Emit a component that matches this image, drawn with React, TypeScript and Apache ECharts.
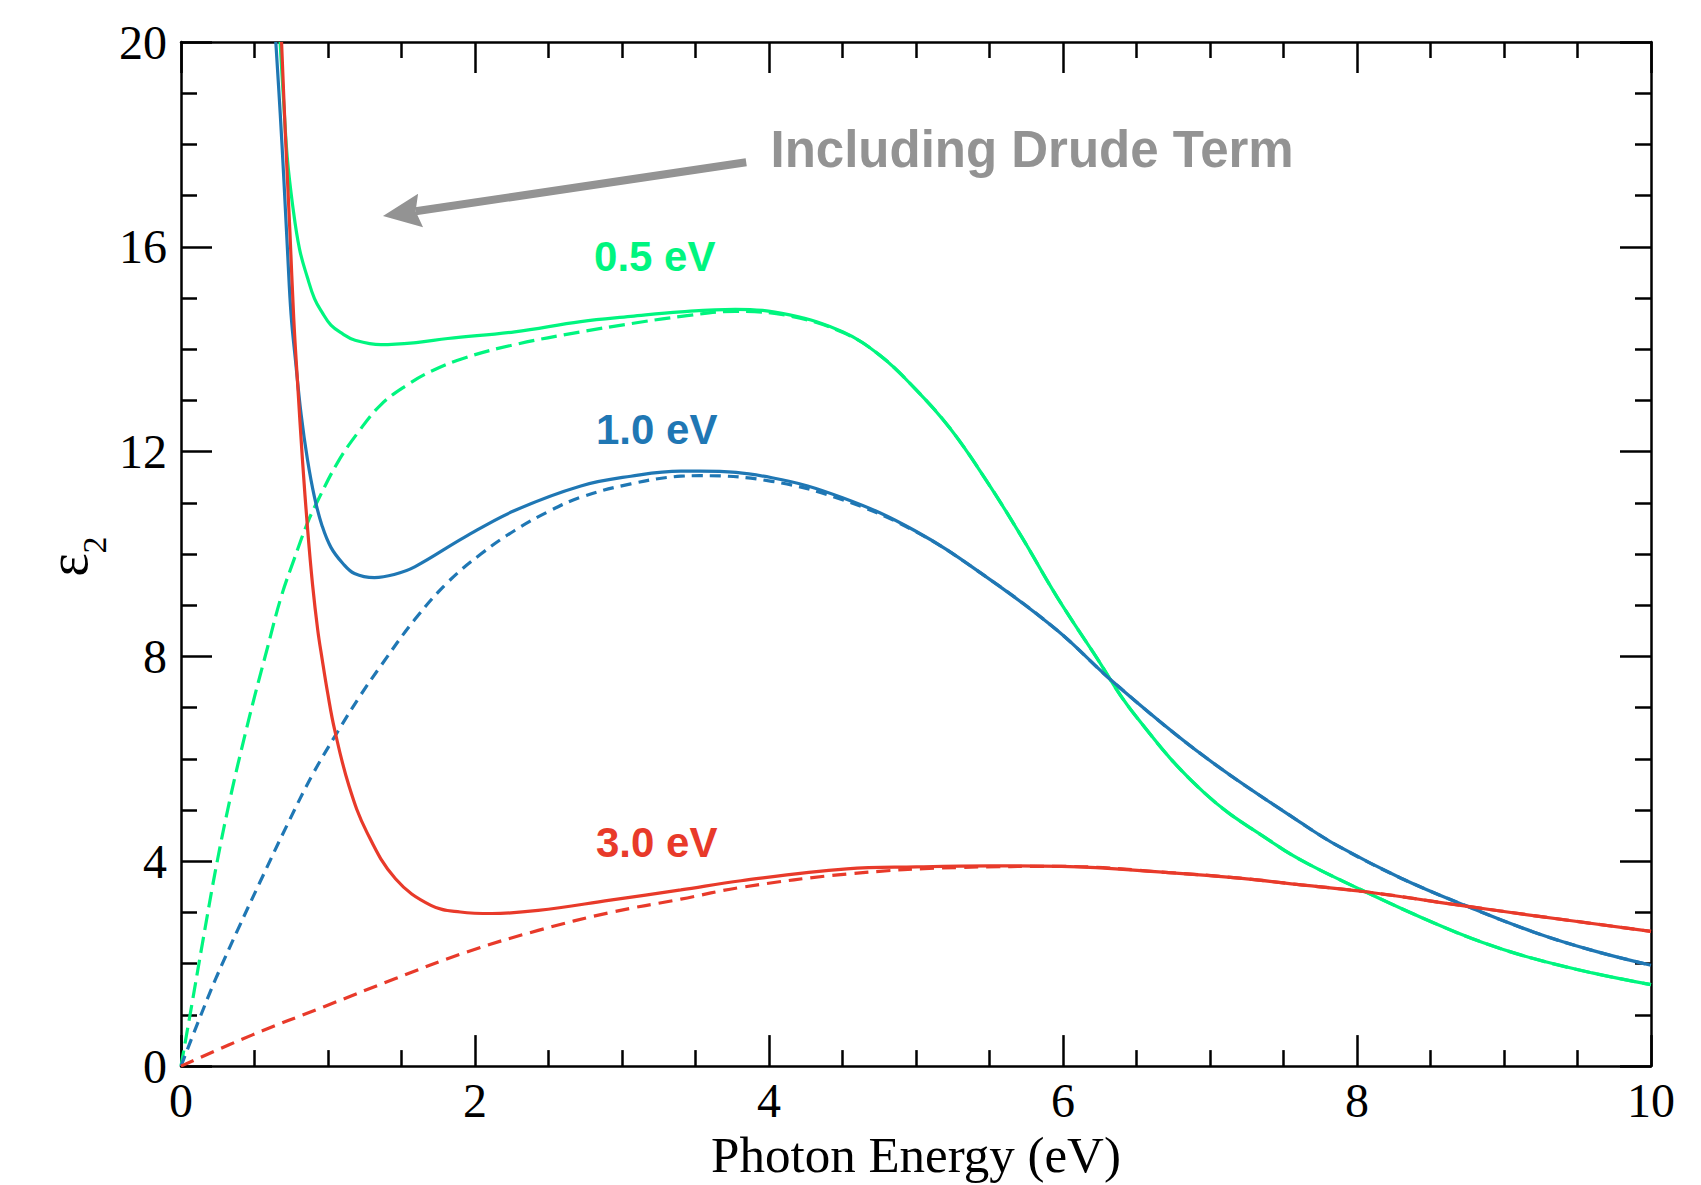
import React, { useEffect, useRef } from 'react';
import * as echarts from 'echarts';

// Photon energy axis (eV) and epsilon_2 axis
const X_MIN = 0, X_MAX = 10, X_STEP = 2;
const Y_MIN = 0, Y_MAX = 20, Y_STEP = 4;

// 0.5 eV broadening — Lorentz only (dashed)
const lorentz05: [number, number][] = [
  [0, 0], [0.073, 1.19], [0.146, 2.4], [0.243, 3.95], [0.34, 5.3], [0.438, 6.5], [0.499, 7.2],
  [0.59, 8.19], [0.681, 9.16], [0.771, 9.91], [0.862, 10.62], [0.93, 11.04], [1.066, 11.79],
  [1.203, 12.37], [1.361, 12.92], [1.543, 13.31], [1.702, 13.57], [1.929, 13.83], [2.269, 14.09],
  [2.723, 14.34], [3.06, 14.5], [3.404, 14.64], [3.77, 14.74], [4.14, 14.65], [4.5, 14.33],
  [4.75, 13.89], [4.99, 13.24], [5.23, 12.46], [5.48, 11.43], [5.72, 10.33], [5.96, 9.16],
  [6.21, 8.06], [6.48, 6.89], [6.96, 5.34], [7.46, 4.3], [7.68, 3.93], [8.09, 3.36], [8.52, 2.8],
  [8.85, 2.42], [9.2, 2.1], [9.6, 1.82], [10, 1.59],
];
// 0.5 eV — including Drude term (solid)
const drude05: [number, number][] = [
  [0.674, 20], [0.7, 18.75], [0.724, 17.71], [0.76, 16.8], [0.806, 15.96], [0.86, 15.4],
  [0.908, 14.99], [0.96, 14.72], [1.02, 14.47], [1.1, 14.3], [1.18, 14.18], [1.36, 14.09],
  [1.6, 14.13], [1.815, 14.21], [2.27, 14.34], [2.72, 14.54], [3.06, 14.64], [3.4, 14.73],
  [3.77, 14.78], [4.14, 14.67], [4.5, 14.34], [4.75, 13.89], [4.99, 13.24], [5.23, 12.46],
  [5.48, 11.43], [5.72, 10.33], [5.96, 9.16], [6.21, 8.06], [6.48, 6.89], [6.96, 5.34],
  [7.46, 4.3], [7.68, 3.93], [8.09, 3.36], [8.52, 2.8], [8.85, 2.42], [9.2, 2.1], [9.6, 1.82],
  [10, 1.59],
];
// 1.0 eV — Lorentz only (dashed)
const lorentz10: [number, number][] = [
  [0, 0], [0.122, 0.9], [0.243, 1.75], [0.389, 2.68], [0.535, 3.58], [0.729, 4.75], [0.9, 5.72],
  [1.07, 6.55], [1.216, 7.22], [1.36, 7.82], [1.59, 8.72], [1.815, 9.45], [2.04, 10.0],
  [2.27, 10.46], [2.5, 10.83], [2.72, 11.11], [3.06, 11.37], [3.4, 11.52], [3.53, 11.53],
  [4.02, 11.42], [4.5, 11.06], [4.99, 10.45], [5.48, 9.55], [5.96, 8.51], [6.35, 7.48],
  [6.96, 6.05], [7.62, 4.75], [7.87, 4.3], [8.3, 3.67], [8.75, 3.12], [9.2, 2.62], [9.6, 2.26],
  [10, 1.97],
];
// 1.0 eV — including Drude term (solid)
const drude10: [number, number][] = [
  [0.645, 20], [0.675, 18.6], [0.7, 17.3], [0.725, 15.9], [0.749, 14.67], [0.78, 13.75],
  [0.817, 12.73], [0.86, 11.85], [0.908, 11.11], [0.96, 10.55], [1.02, 10.13], [1.1, 9.82],
  [1.18, 9.62], [1.316, 9.54], [1.45, 9.6], [1.59, 9.75], [1.93, 10.33], [2.27, 10.85],
  [2.72, 11.33], [3.06, 11.52], [3.4, 11.62], [3.53, 11.62], [4.02, 11.49], [4.5, 11.1],
  [4.99, 10.46], [5.48, 9.55], [5.96, 8.51], [6.35, 7.48], [6.96, 6.05], [7.62, 4.75],
  [7.87, 4.3], [8.3, 3.67], [8.75, 3.12], [9.2, 2.62], [9.6, 2.26], [10, 1.97],
];
// 3.0 eV — Lorentz only (dashed)
const lorentz30: [number, number][] = [
  [0, 0], [0.486, 0.61], [0.973, 1.16], [1.459, 1.71], [1.945, 2.23], [2.43, 2.65], [2.92, 3.0],
  [3.4, 3.26], [3.81, 3.49], [4.53, 3.75], [5.3, 3.88], [5.99, 3.9], [6.72, 3.78], [7.2, 3.67],
  [7.62, 3.54], [8.07, 3.4], [8.75, 3.12], [9.2, 2.94], [10, 2.63],
];
// 3.0 eV — including Drude term (solid)
const drude30: [number, number][] = [
  [0.684, 20], [0.71, 18.2], [0.741, 16.29], [0.767, 14.6], [0.794, 13.3], [0.826, 11.85],
  [0.862, 10.46], [0.895, 9.4], [0.93, 8.52], [0.96, 7.95], [0.998, 7.28], [1.045, 6.57],
  [1.143, 5.47], [1.264, 4.57], [1.459, 3.66], [1.7, 3.14], [1.9, 3.01], [2.115, 2.98],
  [2.43, 3.04], [2.92, 3.24], [3.4, 3.44], [3.81, 3.62], [4.53, 3.85], [5.0, 3.89], [5.51, 3.91],
  [5.99, 3.9], [6.72, 3.78], [7.2, 3.67], [7.62, 3.54], [8.07, 3.4], [8.75, 3.12], [9.2, 2.94],
  [10, 2.63],
];

const SERIES_LABELS = ['0.5 eV', '1.0 eV', '3.0 eV'];
const ANNOTATION = 'Including Drude Term';
const X_NAME = 'Photon Energy (eV)';

const GREEN = '#00F57F';
const BLUE = '#1F77B4';
const RED = '#E83A2A';
const GRAY = '#939393';

export default function App() {
  const ref = useRef<HTMLDivElement>(null);
  useEffect(() => {
    const chart = echarts.init(ref.current!, null, { renderer: 'svg' });
    const serif = "'Liberation Serif', 'Times New Roman', serif";
    const sans = "'Liberation Sans', Arial, sans-serif";
    const axisLine = { show: true, onZero: false, lineStyle: { color: '#000', width: 2.5 } };
    const axisTick = { show: true, inside: true, length: 31, lineStyle: { color: '#000', width: 2.5 } };
    const minorTick = { show: true, splitNumber: 4, length: 16, lineStyle: { color: '#000', width: 2.5 } };
    const xBase = { type: 'value', min: X_MIN, max: X_MAX, interval: X_STEP, axisLine, axisTick, minorTick, splitLine: { show: false } };
    const yBase = { type: 'value', min: Y_MIN, max: Y_MAX, interval: Y_STEP, axisLine, axisTick, minorTick, splitLine: { show: false } };

    const line = (data: [number, number][], color: string, dash: any, z: number) => ({
      type: 'line',
      data,
      showSymbol: false,
      symbol: 'none',
      smooth: 0.4,
      clip: true,
      z,
      silent: true,
      lineStyle: { color, width: 3.2, type: dash, cap: 'butt' },
    });

    chart.setOption({
      animation: false,
      backgroundColor: '#fff',
      grid: { left: 181, top: 42, width: 1470, height: 1029, containLabel: false },
      xAxis: [
        {
          ...xBase,
          position: 'bottom',
          axisLabel: { color: '#000', fontSize: 48, fontFamily: serif, margin: 10 },
          name: X_NAME,
          nameLocation: 'middle',
          nameGap: 58,
          nameTextStyle: { color: '#000', fontSize: 51, fontFamily: serif },
        },
        { ...xBase, position: 'top', axisLabel: { show: false } },
      ],
      yAxis: [
        {
          ...yBase,
          position: 'left',
          axisLabel: { color: '#000', fontSize: 48, fontFamily: serif, margin: 14 },
        },
        { ...yBase, position: 'right', axisLabel: { show: false } },
      ],
      series: [
        line(lorentz05, GREEN, [16, 7], 2),
        line(lorentz10, BLUE, [11, 7], 2),
        line(lorentz30, RED, [14, 8], 2),
        line(drude05, GREEN, 'solid', 3),
        line(drude10, BLUE, 'solid', 3),
        line(drude30, RED, 'solid', 3),
      ],
    });

    const px = (x: number, y: number) => chart.convertToPixel({ gridIndex: 0 }, [x, y]) as number[];

    // arrow
    const tail = px(3.845, 17.65);
    const tip = px(1.374, 16.6);
    const dx = tip[0] - tail[0], dy = tip[1] - tail[1];
    const len = Math.hypot(dx, dy);
    const ux = dx / len, uy = dy / len;
    const nx = -uy, ny = ux;
    const headLen = 38, halfW = 17, notch = 5;
    const base = [tip[0] - ux * headLen, tip[1] - uy * headLen];
    const notchPt = [tip[0] - ux * (headLen - notch), tip[1] - uy * (headLen - notch)];

    const labelFont = { fontSize: 42, fontWeight: 'bold', fontFamily: sans };
    const lab = (txt: string, x: number, y: number, color: string) => {
      const p = px(x, y);
      return {
        type: 'text', x: p[0], y: p[1], z: 10,
        style: { text: txt, fill: color, ...labelFont, align: 'left', verticalAlign: 'middle' },
      };
    };
    const t = px(4.01, 17.9);

    chart.setOption({
      graphic: [
        {
          type: 'line', z: 10,
          shape: { x1: tail[0], y1: tail[1], x2: notchPt[0], y2: notchPt[1] },
          style: { stroke: GRAY, lineWidth: 8 },
        },
        {
          type: 'polygon', z: 10,
          shape: {
            points: [
              tip,
              [base[0] + nx * halfW, base[1] + ny * halfW],
              notchPt,
              [base[0] - nx * halfW, base[1] - ny * halfW],
            ],
          },
          style: { fill: GRAY },
        },
        {
          type: 'text', x: t[0], y: t[1], z: 10,
          style: { text: ANNOTATION, fill: GRAY, fontSize: 51, fontWeight: 'bold', fontFamily: sans, align: 'left', verticalAlign: 'middle' },
        },
        lab(SERIES_LABELS[0], 2.81, 15.81, GREEN),
        lab(SERIES_LABELS[1], 2.823, 12.44, BLUE),
        lab(SERIES_LABELS[2], 2.823, 4.36, RED),
        {
          type: 'text', x: 68, y: 565, rotation: Math.PI / 2, z: 10,
          style: { text: 'ε', fill: '#000', fontSize: 56, fontFamily: serif, align: 'center', verticalAlign: 'middle' },
        },
        {
          type: 'text', x: 94, y: 545, rotation: Math.PI / 2, z: 10,
          style: { text: '2', fill: '#000', fontSize: 34, fontFamily: serif, align: 'center', verticalAlign: 'middle' },
        },
      ],
    });

    return () => chart.dispose();
  }, []);
  return (
    <div
      ref={ref}
      style={{ position: 'fixed', left: 0, top: 0, width: 1701, height: 1185, background: '#fff' }}
    />
  );
}
